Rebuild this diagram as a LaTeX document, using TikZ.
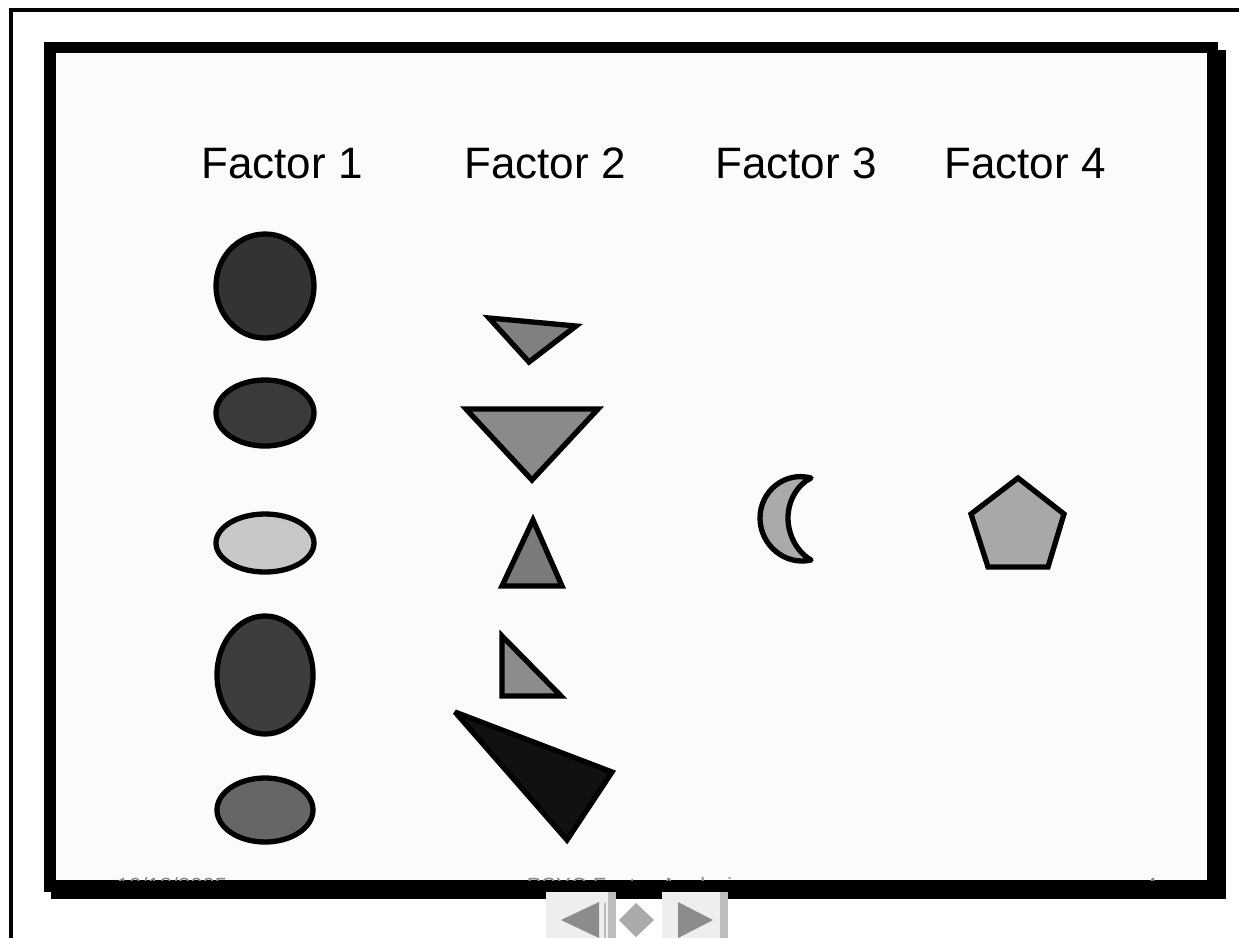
\documentclass[tikz,border=0pt]{standalone}
\usepackage{fontspec}
\setmainfont{Liberation Sans}
\definecolor{slidebg}{HTML}{FBFBFB}
\definecolor{btnface}{HTML}{EEEEEE}
\definecolor{btnedge}{HTML}{BDBDBD}
\definecolor{btnglyph}{HTML}{8C8C8C}
\definecolor{btndiamond}{HTML}{AAAAAA}
\definecolor{footgray}{HTML}{8A8A8A}
\definecolor{ellA}{HTML}{333333}
\definecolor{ellB}{HTML}{3A3A3A}
\definecolor{ellC}{HTML}{C8C8C8}
\definecolor{ellD}{HTML}{3D3D3D}
\definecolor{ellE}{HTML}{666666}
\definecolor{triA}{HTML}{808080}
\definecolor{triB}{HTML}{8A8A8A}
\definecolor{triC}{HTML}{7A7A7A}
\definecolor{triD}{HTML}{8C8C8C}
\definecolor{triE}{HTML}{111111}
\definecolor{moon}{HTML}{AAAAAA}
\definecolor{penta}{HTML}{A8A8A8}
\tikzset{
  shape outline/.style={draw=black, line width=5.3pt, line join=miter, miter limit=3},
  factor label/.style={anchor=base, inner sep=0pt, font=\fontsize{44}{50}\selectfont},
  footer/.style={anchor=base, inner sep=0pt, text=footgray, font=\fontsize{22}{26}\selectfont},
  navbutton/.style={fill=btnface, draw=none},
}
\begin{document}
\begin{tikzpicture}[x=1pt, y=-1pt]
\useasboundingbox (0,0) rectangle (1239,938);
\fill[white] (0,0) rectangle (1239,938);

% window edge (top and left)
\fill[black] (9,8) rectangle (1239,12);
\fill[black] (9,8) rectangle (13,938);

% slide with drop shadow and thick frame
\fill[black] (51,50) rectangle (1226,899);
\fill[black] (44,42) rectangle (1218,892);
\fill[slidebg] (56,53) rectangle (1207,880);

% footer line, mostly hidden under the frame
\begin{scope}
  \clip (56,53) rectangle (1207,880);
  \node[footer] (date) at (172,893) {10/18/2005};
  \node[footer] (title) at (635,893) {PSYC Factor Analysis};
  \node[footer] (page) at (1151,893) {4};
\end{scope}

% column headings
\node[factor label] (f1) at (282,178) {Factor 1};
\node[factor label] (f2) at (545,178) {Factor 2};
\node[factor label] (f3) at (796,178) {Factor 3};
\node[factor label] (f4) at (1025,178) {Factor 4};

% factor 1: ellipses
\filldraw[shape outline, fill=ellA] (265,286) ellipse [x radius=49, y radius=52];
\filldraw[shape outline, fill=ellB] (265,413) ellipse [x radius=49, y radius=33];
\filldraw[shape outline, fill=ellC] (265,543) ellipse [x radius=49, y radius=29];
\filldraw[shape outline, fill=ellD] (265,675) ellipse [x radius=48, y radius=59];
\filldraw[shape outline, fill=ellE] (265,810) ellipse [x radius=48, y radius=32];

% factor 2: triangles
\filldraw[shape outline, fill=triA] (489,318) -- (576,326) -- (529,362) -- cycle;
\filldraw[shape outline, fill=triB] (466,409) -- (598,409) -- (532,480) -- cycle;
\filldraw[shape outline, fill=triC] (533,520) -- (562,586) -- (502,586) -- cycle;
\filldraw[shape outline, fill=triD] (502,636) -- (561,696) -- (502,696) -- cycle;
\filldraw[shape outline, fill=triE] (455,712) -- (612,772) -- (567,840) -- cycle;

% factor 3: crescent (outer and inner circular arcs)
\filldraw[shape outline, line join=round, fill=moon]
  (811,478) .. controls (785,471) and (760,491) .. (760,518)
  .. controls (760,545) and (785,566) .. (811,560)
  .. controls (797,552) and (788,535) .. (788,518)
  .. controls (788,501) and (797,485) .. (811,478) -- cycle;

% factor 4: pentagon
\filldraw[shape outline, fill=penta]
  (1018,478) -- (1064,514) -- (1048,567) -- (988,567) -- (971,514) -- cycle;

% navigation buttons under the slide
\fill[navbutton] (546,892) rectangle (616,938);
\fill[btnedge] (608,892) rectangle (616,938);
\fill[btnedge] (604,903) rectangle (606,938);
\fill[btnglyph] (561,920) -- (599,902) -- (599,938) -- cycle;
\fill[btndiamond] (636,903) -- (654,920) -- (636,937) -- (619,920) -- cycle;
\fill[navbutton] (662,892) rectangle (728,938);
\fill[btnedge] (720,892) rectangle (728,938);
\fill[btnglyph] (713,920) -- (678,902) -- (678,938) -- cycle;
\end{tikzpicture}
\end{document}
